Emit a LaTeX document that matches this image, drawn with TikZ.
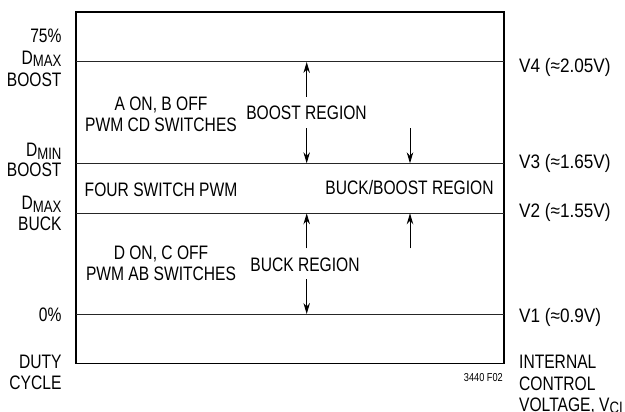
\documentclass[tikz,border=0pt]{standalone}
\usepackage{fontspec}
\setmainfont{Liberation Sans}[FakeStretch=0.8]
\newfontfamily\vfont{Liberation Sans}[FakeStretch=0.88]
\usetikzlibrary{arrows.meta}
\newcommand{\dsub}[1]{\raisebox{-2.4pt}{\fontsize{16.5}{17}\selectfont #1}}
\begin{document}
\begin{tikzpicture}[x=1pt,y=-1pt,
  lbl/.style={inner sep=0pt,font=\fontsize{19.5}{21}\selectfont},
  vlbl/.style={inner sep=0pt,font=\vfont\fontsize{19.5}{21}\selectfont},
  tiny/.style={inner sep=0pt,font=\fontsize{11.5}{12}\selectfont},
  frame/.style={line width=1.5pt,black},
  level/.style={line width=1pt,black!85},
  arr/.style={line width=1pt,-{Stealth[length=11pt,width=6.5pt]}}]
\useasboundingbox (0,0) rectangle (625,412);
% frame
\coordinate (tl) at (76,12);
\coordinate (br) at (504,363.7);
\draw[frame] (tl) rectangle (br);
% level lines
\coordinate (a4) at (76,62);   \coordinate (b4) at (504,62);
\coordinate (a3) at (76,163.3); \coordinate (b3) at (504,163.3);
\coordinate (a2) at (76,213.3); \coordinate (b2) at (504,213.3);
\coordinate (a1) at (76,314);  \coordinate (b1) at (504,314);
\draw[level] (a4) -- (b4);
\draw[level] (a3) -- (b3);
\draw[level] (a2) -- (b2);
\draw[level] (a1) -- (b1);
% arrows
\coordinate (s1) at (306.7,96.7);  \coordinate (e1) at (306.7,62);
\coordinate (s2) at (306.7,128.3); \coordinate (e2) at (306.7,163.3);
\coordinate (s3) at (410,128.3);   \coordinate (e3) at (410,163.3);
\coordinate (s4) at (306.7,248.3); \coordinate (e4) at (306.7,213.3);
\coordinate (s5) at (306.7,279.3); \coordinate (e5) at (306.7,314);
\coordinate (s6) at (410,248.3);   \coordinate (e6) at (410,213.3);
\draw[arr] (s1) -- (e1);
\draw[arr] (s2) -- (e2);
\draw[arr] (s3) -- (e3);
\draw[arr] (s4) -- (e4);
\draw[arr] (s5) -- (e5);
\draw[arr] (s6) -- (e6);
% left labels
\node[lbl,anchor=base east] (l75) at (61.7,42.3) {75\%};
\node[lbl,anchor=base east] (ldmaxb) at (61.7,64.3) {D\dsub{MAX}};
\node[lbl,anchor=base east] (lboost1) at (61.7,86.7) {BOOST};
\node[lbl,anchor=base east] (ldmin) at (61.7,156.7) {D\dsub{MIN}};
\node[lbl,anchor=base east] (lboost2) at (61.7,176.7) {BOOST};
\node[lbl,anchor=base east] (ldmaxk) at (61.7,210) {D\dsub{MAX}};
\node[lbl,anchor=base east] (lbuck) at (61.7,230) {BUCK};
\node[lbl,anchor=base east] (l0) at (61.7,321) {0\%};
\node[lbl,anchor=base east] (lduty) at (61.7,368.3) {DUTY};
\node[lbl,anchor=base east] (lcycle) at (61.7,389.3) {CYCLE};
% right labels
\node[vlbl,anchor=base west] (rv4) at (519,72.5) {V4 (≈2.05V)};
\node[vlbl,anchor=base west] (rv3) at (519,168.5) {V3 (≈1.65V)};
\node[vlbl,anchor=base west] (rv2) at (519,217.5) {V2 (≈1.55V)};
\node[vlbl,anchor=base west] (rv1) at (519,322) {V1 (≈0.9V)};
\node[lbl,anchor=base west] (rint) at (519,368.3) {INTERNAL};
\node[lbl,anchor=base west] (rcon) at (519,390) {CONTROL};
\node[lbl,anchor=base west] (rvol) at (519,411.5) {VOLTAGE, V\dsub{CI}};
% inner texts
\node[lbl,anchor=base] (aon) at (161,111) {A ON, B OFF};
\node[lbl,anchor=base] (pwmcd) at (161,131.7) {PWM CD SWITCHES};
\node[lbl,anchor=base] (four) at (161,196.7) {FOUR SWITCH PWM};
\node[lbl,anchor=base] (don) at (161,259) {D ON, C OFF};
\node[lbl,anchor=base] (pwmab) at (161,280) {PWM AB SWITCHES};
\node[lbl,anchor=base] (boostr) at (306.5,120) {BOOST REGION};
\node[lbl,anchor=base] (buckboost) at (409.5,195) {BUCK/BOOST REGION};
\node[lbl,anchor=base] (buckr) at (305,271.5) {BUCK REGION};
\node[tiny,anchor=base east] (fig) at (503,381.5) {3440 F02};
\end{tikzpicture}
\end{document}
